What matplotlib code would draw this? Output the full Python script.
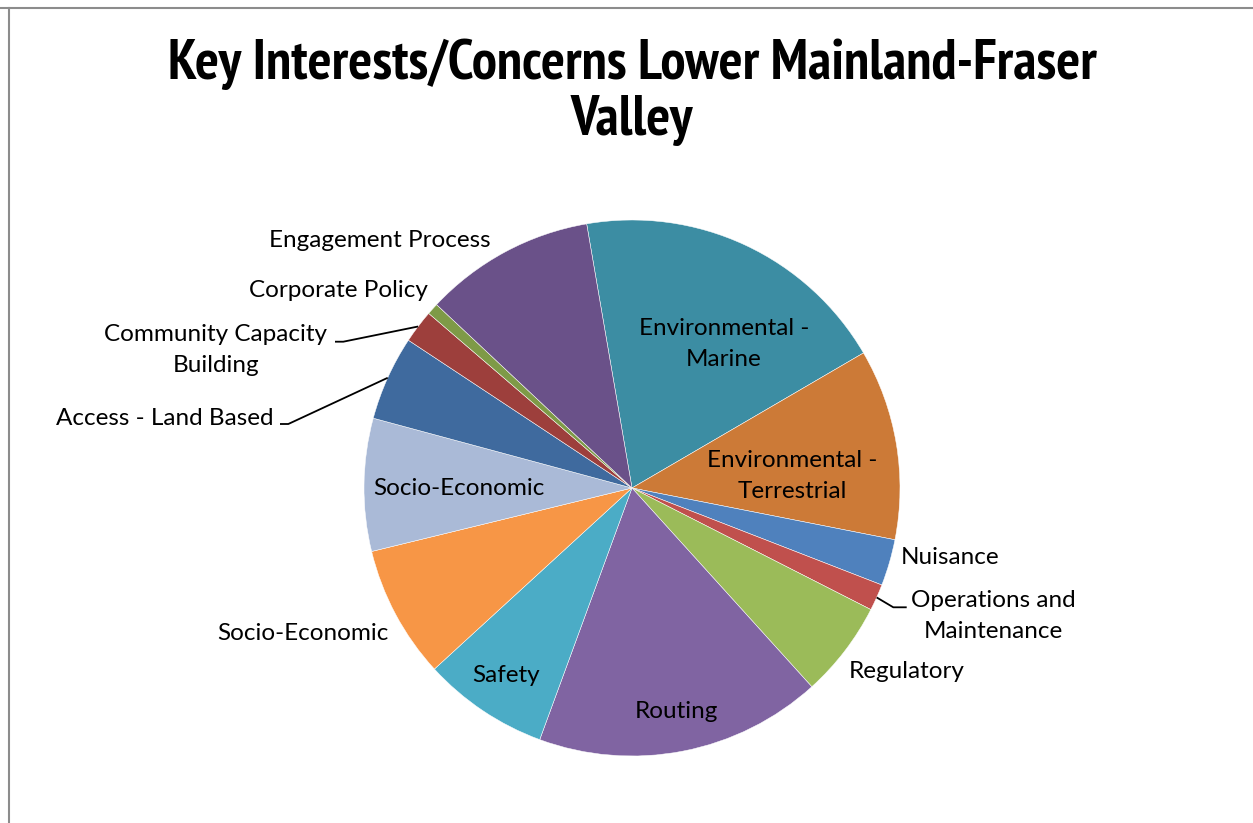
import os
import numpy as np
import matplotlib
matplotlib.use("Agg")
import matplotlib.pyplot as plt
from matplotlib import font_manager
from matplotlib.lines import Line2D

# Share of comments per topic (percent), listed clockwise from the top
categories = [
    "Environmental -\nMarine",
    "Environmental -\nTerrestrial",
    "Nuisance",
    "Operations and\nMaintenance",
    "Regulatory",
    "Routing",
    "Safety",
    "Socio-Economic",
    "Socio-Economic",
    "Access - Land Based",
    "Community Capacity\nBuilding",
    "Corporate Policy",
    "Engagement Process",
]
shares = [19.3, 11.5, 2.8, 1.6, 5.8, 17.3, 7.6, 8.0, 8.0, 5.1, 2.0, 0.7, 10.3]
slice_colors = [
    "#3C8DA3", "#CC7A37", "#4F81BD", "#C0504D", "#9BBB59", "#8064A2",
    "#4BACC6", "#F79646", "#AABAD7", "#3F6A9E", "#9D3F3C", "#7E9A47",
    "#6A5189",
]
title_lines = ["Key Interests/Concerns Lower Mainland-Fraser", "Valley"]

W, H = 1253, 823
CENTER = (632, 488)
RADIUS = 268

# label centre (px), and optional leader: (start of stub, end of stub)
label_layout = [
    ((724, 344), None),
    ((792, 476), None),
    ((950, 557), None),
    ((993, 616), ((906.7, 607.3), (893.3, 607.3))),
    ((907, 672), None),
    ((676, 712), None),
    ((506, 676), None),
    ((303, 633), None),
    ((459, 488), None),
    ((165, 418), ((280, 424), (288.3, 424))),
    ((216, 350), ((335, 341.7), (343.3, 341.7))),
    ((338, 290), None),
    ((380, 240), None),
]

installed = {f.name for f in font_manager.fontManager.ttflist}


def pick(*names):
    for n in names:
        if n in installed:
            return n
    return "DejaVu Sans"


def as_weight(w):
    if isinstance(w, str):
        return font_manager.weight_dict.get(w, 400)
    return w


def condensed_bold_file():
    # look for a narrow/condensed bold face among the installed fonts
    for key in ("narrow", "condensed"):
        for f in font_manager.fontManager.ttflist:
            tag = (f.name + " " + os.path.basename(f.fname)).lower()
            if key not in tag or any(s in tag for s in ("extra", "ultra", "semi", "italic", "oblique")):
                continue
            if as_weight(f.weight) >= 600 and f.style == "normal":
                return f.fname
    return None


label_font = pick("Lato", "Open Sans", "DejaVu Sans")
title_file = condensed_bold_file()
if title_file:
    title_props = dict(fontproperties=font_manager.FontProperties(fname=title_file))
else:
    title_props = dict(family=label_font, fontweight="bold")


def px(x, y):
    return x, H - y


fig = plt.figure(figsize=(W / 100, H / 100), dpi=100)
fig.patch.set_facecolor("white")
ax = fig.add_axes([0, 0, 1, 1])

wedges, _ = ax.pie(
    shares,
    colors=slice_colors,
    startangle=99.74,
    counterclock=False,
    center=px(*CENTER),
    radius=RADIUS,
    wedgeprops=dict(linewidth=0.35, edgecolor="white"),
)
ax.set_xlim(0, W)
ax.set_ylim(0, H)
ax.set_aspect("equal")
ax.axis("off")

for w, name, ((lx, ly), leader) in zip(wedges, categories, label_layout):
    ax.text(*px(lx, ly), name, ha="center", va="center", fontsize=17.5,
            family=label_font, color="black", linespacing=1.6)
    if leader is not None:
        mid = np.deg2rad((w.theta1 + w.theta2) / 2)
        cx, cy = w.center
        ex, ey = cx + w.r * np.cos(mid), cy + w.r * np.sin(mid)
        (sx, sy), (kx, ky) = leader
        xs = [px(sx, sy)[0], px(kx, ky)[0], ex]
        ys = [px(sx, sy)[1], px(kx, ky)[1], ey]
        ax.plot(xs, ys, color="black", linewidth=1.3, solid_capstyle="butt")

# title: two centred lines, size fitted to the width of the first line
renderer = fig.canvas.get_renderer()
t1 = fig.text(632 / W, 1 - 79 / H, title_lines[0], ha="center", va="baseline",
              fontsize=36, **title_props)
w1 = t1.get_window_extent(renderer).width
size = 36 * 929 / w1
t1.set_fontsize(size)
fig.text(632 / W, 1 - 135 / H, title_lines[1], ha="center", va="baseline",
         fontsize=size, **title_props)

# chart frame (top and left edges)
fig.add_artist(Line2D([0, 1], [1 - 7.5 / H, 1 - 7.5 / H], transform=fig.transFigure,
                      color="#8C8C8C", linewidth=1.5))
fig.add_artist(Line2D([8.5 / W, 8.5 / W], [0, 1 - 7.5 / H], transform=fig.transFigure,
                      color="#8C8C8C", linewidth=1.5))

fig.savefig("out.png", dpi=100, facecolor="white")
